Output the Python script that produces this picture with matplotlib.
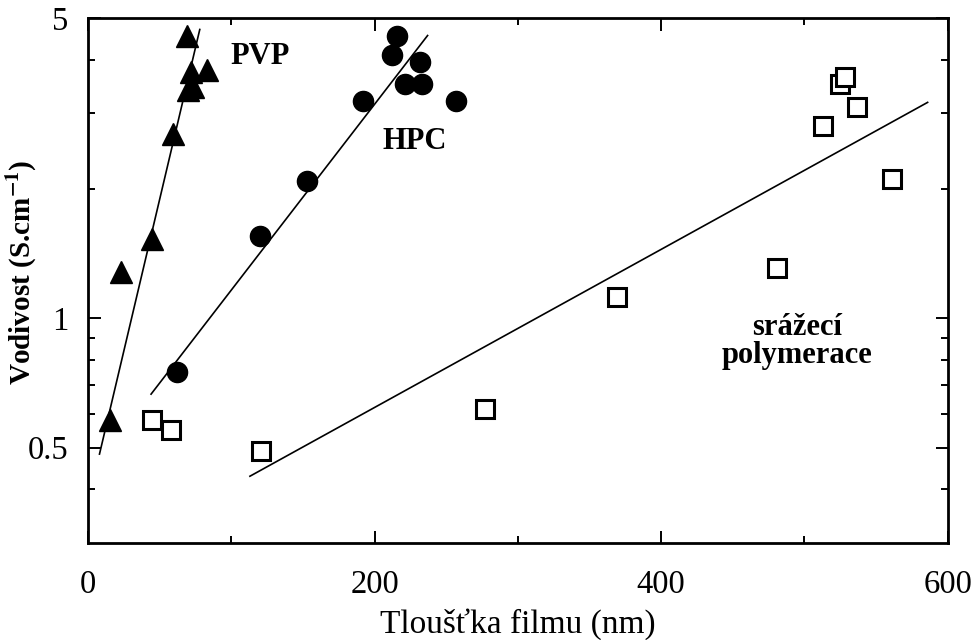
import matplotlib.pyplot as plt
from matplotlib.ticker import FixedLocator, NullFormatter, FixedFormatter

plt.rcParams['font.family'] = ['Liberation Serif', 'DejaVu Serif']
plt.rcParams['mathtext.fontset'] = 'stix'

# PVP films
pvp_x = [15, 23, 45, 59, 69, 70, 73, 72, 83]
pvp_y = [0.58, 1.28, 1.53, 2.68, 4.55, 3.40, 3.45, 3.75, 3.79]
pvp_fit_x = [8, 78]
pvp_fit_y = [0.483, 4.70]

# HPC films
hpc_x = [62, 120, 153, 192, 212, 216, 221, 232, 233, 257]
hpc_y = [0.75, 1.55, 2.09, 3.20, 4.11, 4.53, 3.50, 3.94, 3.50, 3.20]
hpc_fit_x = [44, 237]
hpc_fit_y = [0.666, 4.55]

# precipitation polymerisation
poly_x = [45, 58, 121, 277, 369, 481, 513, 525, 528, 537, 561]
poly_y = [0.58, 0.55, 0.49, 0.614, 1.12, 1.31, 2.80, 3.50, 3.64, 3.11, 2.11]
poly_fit_x = [113, 586]
poly_fit_y = [0.429, 3.18]

fig = plt.figure(figsize=(9.78, 6.40), dpi=100)
ax = fig.add_axes([0.090, 0.1516, 0.879, 0.8204])

ax.plot(pvp_fit_x, pvp_fit_y, color='black', lw=1.2)
ax.plot(hpc_fit_x, hpc_fit_y, color='black', lw=1.2)
ax.plot(poly_fit_x, poly_fit_y, color='black', lw=1.2)

ax.plot(pvp_x, pvp_y, '^', color='black', ms=16.5, ls='none')
ax.plot(hpc_x, hpc_y, 'o', color='black', ms=14.5, ls='none')
ax.plot(poly_x, poly_y, 's', mfc='white', mec='black', mew=2.2, ms=12.5, ls='none')

ax.set_yscale('log')
ax.set_xlim(0, 600)
ax.set_ylim(0.3, 5)

ax.xaxis.set_major_locator(FixedLocator([0, 200, 400, 600]))
ax.xaxis.set_minor_locator(FixedLocator([100, 300, 500]))
ax.yaxis.set_major_locator(FixedLocator([0.5, 1, 5]))
ax.yaxis.set_major_formatter(FixedFormatter(['0.5', '1', '5']))
ax.yaxis.set_minor_locator(FixedLocator([0.4, 0.6, 0.7, 0.8, 0.9, 2, 3, 4]))
ax.yaxis.set_minor_formatter(NullFormatter())

ax.tick_params(which='both', direction='in', top=True, right=True, width=1.4,
               labelsize=23.5)
ax.tick_params(axis='x', which='major', pad=19)
ax.tick_params(axis='y', which='major', pad=14)
ax.tick_params(which='major', length=9)
ax.tick_params(which='minor', length=5)
for s in ax.spines.values():
    s.set_linewidth(2)

ax.set_xlabel('Tloušťka filmu (nm)', fontsize=24, labelpad=6)
ax.set_ylabel(r'Vodivost (S.cm$^{\mathbf{-1}}$)', fontsize=21, fontweight='bold')
ax.yaxis.set_label_coords(-0.057, 0.516)

ax.text(120, 4.07, 'PVP', fontsize=22, fontweight='bold', ha='center', va='center')
ax.text(228, 2.58, 'HPC', fontsize=22, fontweight='bold', ha='center', va='center')
ax.text(495, 0.884, 'srážecí\npolymerace', fontsize=22, fontweight='bold',
        ha='center', va='center', linespacing=0.95)

fig.savefig('out.png', dpi=100)
